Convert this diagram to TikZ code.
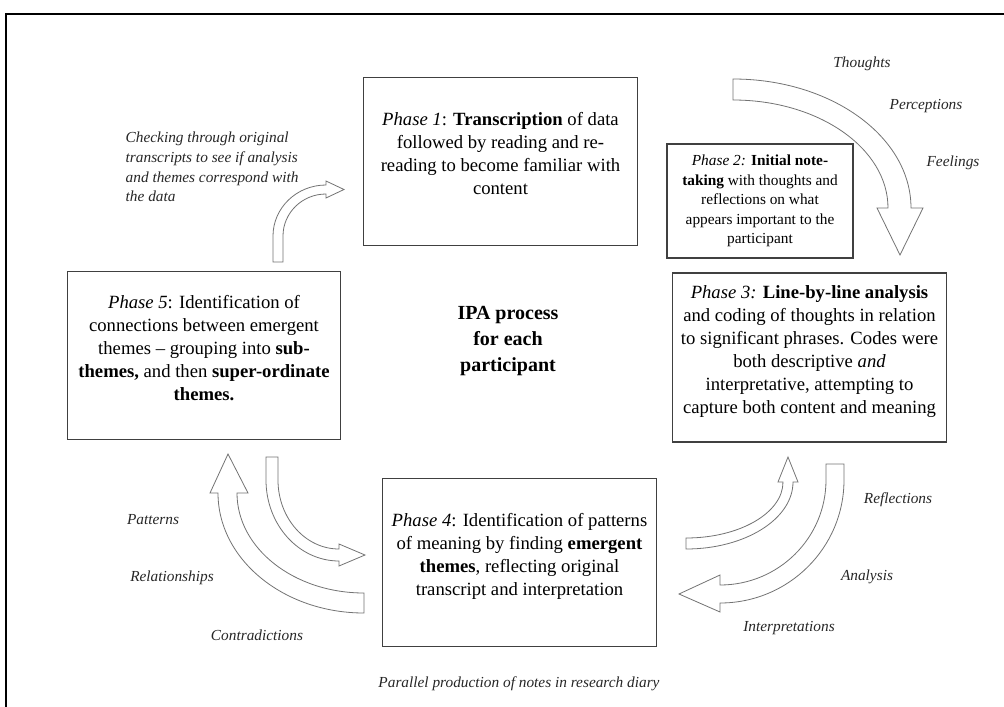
\documentclass[tikz,border=0pt]{standalone}
\usepackage{fontspec}
\setmainfont{Liberation Serif}

\begin{document}
\begin{tikzpicture}[x=0.75pt,y=0.75pt,font=\fontsize{14}{17.25}\selectfont]
  \tikzset{
    phase/.style={draw=black!75,line width=0.9pt,fill=white,align=center,inner sep=2pt},
    bigphase/.style={phase,minimum width=205pt,minimum height=125.5pt,text depth=12pt},
    smallphase/.style={phase,minimum width=139.5pt,minimum height=85.5pt,font=\fontsize{11.5}{14.6}\selectfont},
    note/.style={font=\fontsize{11.5}{14.8}\selectfont\itshape,text=black!85},
    barrow/.style={draw=black!55,line width=0.6pt,fill=white,line join=miter},
  }
  \useasboundingbox (0,0) rectangle (1004,-707);
  % outer frame
  \draw[line width=1.8pt] (1004,-14) -- (6,-14) -- (6,-707);

  % the five phases
  \node[bigphase] (phaseone) at (500.5,-161.5)
    {\textit{Phase 1}: \textbf{Transcription} of data\\followed by reading and re-\\reading to become familiar with\\content};
  \node[smallphase] (phasetwo) at (760,-201)
    {\textit{Phase 2:} \textbf{Initial note-}\\\textbf{taking} with thoughts and\\reflections on what\\appears important to the\\participant};
  \node[bigphase,minimum height=126.75pt] (phasethree) at (809.5,-357.5)
    {\textit{Phase 3:} \textbf{Line-by-line analysis}\\and coding of thoughts in relation\\to significant phrases. Codes were\\both descriptive \textit{and}\\interpretative, attempting to\\capture both content and meaning};
  \node[bigphase] (phasefour) at (519.5,-562.5)
    {\textit{Phase 4}: Identification of patterns\\of meaning by finding \textbf{emergent}\\\textbf{themes}, reflecting original\\transcript and interpretation};
  \node[bigphase] (phasefive) at (204,-355.5)
    {\textit{Phase 5}: Identification of\\connections between emergent\\themes -- grouping into \textbf{sub-}\\\textbf{themes,} and then \textbf{super-ordinate}\\\textbf{themes.}};
  \node[font=\fontsize{15}{19.5}\selectfont\bfseries,align=center] (ipa) at (508,-341)
    {IPA process\\for each\\participant};

  % block arrows
  \draw[barrow] (733,-79) arc[start angle=90,end angle=0,x radius=178,y radius=129]
    -- (923,-208) -- (900,-255) -- (877,-208) -- (888,-208)
    arc[start angle=0,end angle=90,x radius=155,y radius=108] -- cycle;
  \draw[barrow] (273,-262) -- (273,-236) arc[start angle=180,end angle=90,x radius=53,y radius=51]
    -- (326,-181) -- (344,-189.5) -- (326,-198) -- (326,-194)
    arc[start angle=90,end angle=180,x radius=43,y radius=42] -- (283,-262) -- cycle;
  \draw[barrow] (266,-457) -- (266,-480) arc[start angle=180,end angle=270,x radius=73,y radius=81]
    -- (339,-566) -- (365,-555) -- (339,-544) -- (339,-549)
    arc[start angle=270,end angle=180,x radius=61,y radius=69] -- (278,-457) -- cycle;
  \draw[barrow] (364,-613) arc[start angle=270,end angle=180,x radius=146,y radius=120]
    -- (210,-493) -- (228,-454) -- (248,-493) -- (237,-493)
    arc[start angle=180,end angle=270,x radius=127,y radius=100] -- cycle;
  \draw[barrow] (686,-549) arc[start angle=270,end angle=360,x radius=107,y radius=67]
    -- (798,-482) -- (788,-457) -- (778,-482) -- (783,-482)
    arc[start angle=0,end angle=-90,x radius=97,y radius=56] -- cycle;
  \draw[barrow] (826,-464) -- (844,-464) -- (844,-480) arc[start angle=0,end angle=-90,x radius=124,y radius=123]
    -- (720,-612) -- (679,-594) -- (720,-575) -- (720,-585)
    arc[start angle=-90,end angle=0,x radius=106,y radius=105] -- cycle;

  % side notes
  \node[note] (thoughts) at (862,-64) {Thoughts};
  \node[note] (perceptions) at (926,-106) {Perceptions};
  \node[note] (feelings) at (953,-163) {Feelings};
  \node[note,align=left,anchor=west] (checking) at (121,-167)
    {Checking through original\\transcripts to see if analysis\\and themes correspond with\\the data};
  \node[note] (reflections) at (898,-500) {Reflections};
  \node[note] (analysis) at (867,-577) {Analysis};
  \node[note] (interpretations) at (789,-628) {Interpretations};
  \node[note] (patterns) at (153,-520) {Patterns};
  \node[note] (relationships) at (172,-578) {Relationships};
  \node[note] (contradictions) at (257,-635) {Contradictions};
  \node[note] (diary) at (519,-684) {Parallel production of notes in research diary};
\end{tikzpicture}
\end{document}
